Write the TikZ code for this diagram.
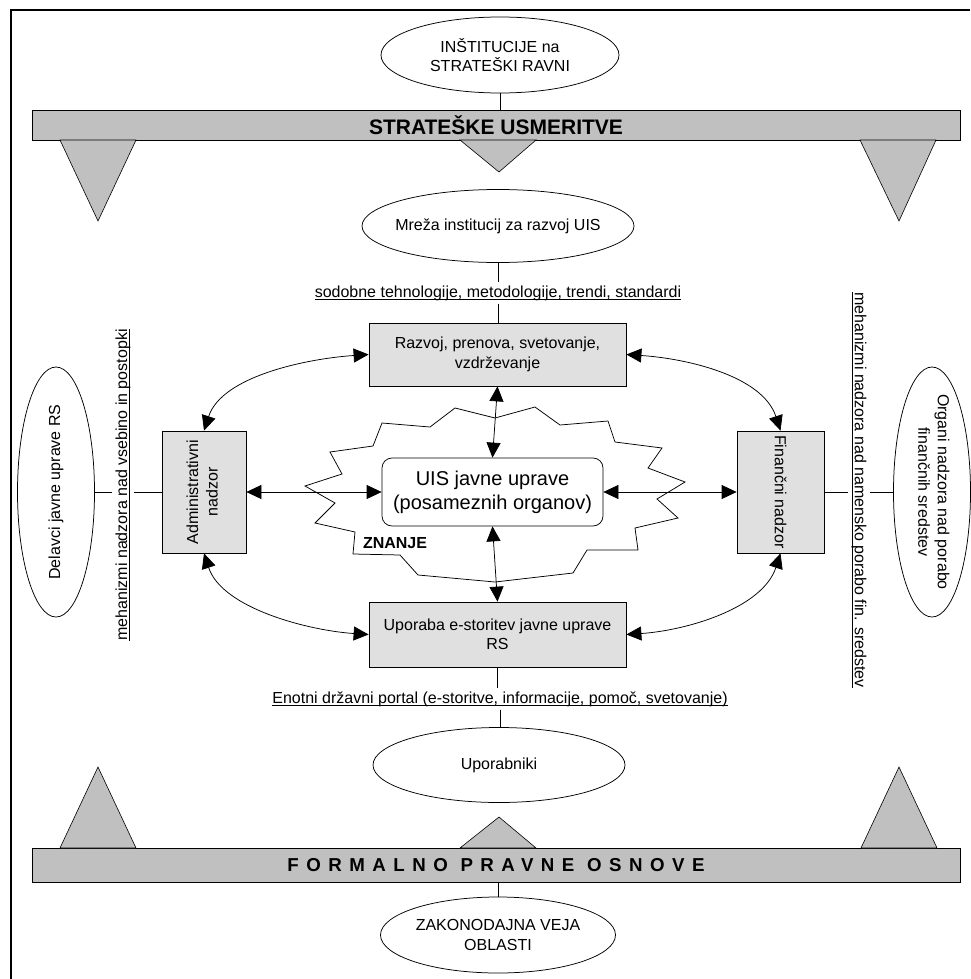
\documentclass[tikz,border=0pt]{standalone}
\usepackage{fontspec}
\setmainfont{Liberation Sans}
\newfontfamily\spacedfont[LetterSpace=40]{Liberation Sans}
\usetikzlibrary{arrows.meta,shapes.geometric}
\newcommand\fsz[2]{\fontsize{#1pt}{#2pt}\selectfont}
% underline drawn just below the baseline, crossing the descenders
\newcommand\uln[1]{\setbox0=\hbox{#1}\rlap{\rule[-2.6pt]{\wd0}{0.7pt}}\box0}
\definecolor{bargray}{RGB}{192,192,192}
\definecolor{boxgray}{RGB}{224,224,224}
\begin{document}
\begin{tikzpicture}[x=1pt,y=-1pt,
  every node/.style={font=\fsz{16}{19.5},text=black},
  link/.style={line width=0.75pt},
  both/.style={link,{Triangle[length=15pt,width=14pt]}-{Triangle[length=15pt,width=14pt]}},
  oval/.style={ellipse,draw,line width=0.75pt,fill=white,inner sep=-12pt,align=center},
  gbox/.style={rectangle,draw,line width=0.75pt,fill=boxgray,inner sep=0pt,align=center},
  bar/.style={rectangle,draw,line width=0.9pt,fill=bargray,inner sep=0pt,minimum width=928pt},
  wedge/.style={draw,line width=0.6pt,fill=bargray},
  tag/.style={inner sep=3pt}
]
\useasboundingbox (0,0) rectangle (970,979);
% frame
\draw[line width=2pt] (11,979) -- (11,10) -- (970,10);

% strategic bar and its wedges
\node[bar,minimum height=30pt,font=\fsz{21}{24}\bfseries] (bar1) at (496,125) {STRATEŠKE USMERITVE};
\draw[wedge] (60,140) -- (136,140) -- (98,221) -- cycle;
\draw[wedge] (460,140) -- (536,140) -- (499,172) -- cycle;
\draw[wedge] (860,140) -- (936,140) -- (899,221) -- cycle;

% legal bar and its wedges
\node[bar,minimum height=34pt,font=\spacedfont\bfseries\fsz{18.7}{22}] (bar2) at (496,865) {FORMALNO PRAVNE OSNOVE};
\draw[wedge] (60,848) -- (136,848) -- (98,767) -- cycle;
\draw[wedge] (460,848) -- (536,848) -- (499,817) -- cycle;
\draw[wedge] (861,848) -- (937,848) -- (899,767) -- cycle;

% ovals
\node[oval,minimum width=238pt,minimum height=76pt] (inst) at (500,55) {INŠTITUCIJE na\\STRATEŠKI RAVNI};
\node[oval,minimum width=272pt,minimum height=73pt] (mreza) at (498,226) {Mreža institucij za razvoj UIS};
\node[oval,minimum width=252pt,minimum height=75pt] (users) at (499,765) {Uporabniki};
\node[oval,minimum width=235pt,minimum height=76pt] (zak) at (498,935) {ZAKONODAJNA VEJA\\OBLASTI};
\node[oval,minimum width=77pt,minimum height=250pt] (del) at (56,492) {\rotatebox{90}{Delavci javne uprave RS}};
\node[oval,minimum width=77pt,minimum height=250pt] (org) at (932,492) {\rotatebox{-90}{\begin{tabular}{@{}c@{}}Organi nadzora nad porabo\\finančnih sredstev\end{tabular}}};

% knowledge cloud
\draw[link,fill=white] (495,418) -- (455,408) -- (430,427) -- (382,423) -- (373,446) -- (330,452)
  -- (342,474) -- (305,486) -- (335,503) -- (315,523) -- (355,532) -- (353,554) -- (400,555)
  -- (418,575) -- (495,582) -- (573,573) -- (587,550) -- (638,550) -- (635,528) -- (678,518)
  -- (657,499) -- (685,482) -- (648,468) -- (662,448) -- (615,442) -- (608,421) -- (560,425)
  -- (535,407) -- cycle;
\node[font=\fsz{16}{19}\bfseries] (znanje) at (395,543) {ZNANJE};
\node[draw,line width=0.75pt,fill=white,rounded corners=10pt,minimum width=221pt,minimum height=68pt,
  inner sep=0pt,align=center,font=\fsz{20}{24}] (uis) at (492.5,492) {UIS javne uprave\\(posameznih organov)};

% activity boxes
\node[gbox,minimum width=257pt,minimum height=63pt] (razvoj) at (497.5,354.5) {Razvoj, prenova, svetovanje,\\vzdrževanje};
\node[gbox,minimum width=257pt,minimum height=65pt] (upor) at (497.5,634.5) {Uporaba e-storitev javne uprave\\RS};
\node[gbox,minimum width=84pt,minimum height=122pt] (adm) at (204,492) {\rotatebox{90}{\begin{tabular}{@{}c@{}}Administrativni\\nadzor\end{tabular}}};
\node[gbox,minimum width=87pt,minimum height=122pt] (fin) at (780.5,492) {\rotatebox{-90}{Finančni nadzor}};

% channel labels
\node[tag] (sod) at (498,293) {\uln{sodobne tehnologije, metodologije, trendi, standardi}};
\node[tag] (enot) at (500,699) {\uln{Enotni državni portal (e-storitve, informacije, pomoč, svetovanje)}};
\node[tag] (lmech) at (123,485) {\rotatebox{90}{\uln{mehanizmi nadzora nad vsebino in postopki}}};
\node[tag] (rmech) at (859,490) {\rotatebox{-90}{\uln{mehanizmi nadzora nad namensko porabo fin. sredstev}}};

% plain connectors
\draw[link] (inst.south) -- (inst.south |- bar1.north);
\draw[link] (bar2.south -| zak.north) -- (zak.north);
\draw[link] (mreza.south) -- (mreza.south |- sod.north);
\draw[link] (sod.south) -- (sod.south |- razvoj.north);
\draw[link] (upor.south) -- (upor.south |- enot.north);
\draw[link] (enot.south) -- (enot.south |- users.north);
\draw[link] (del.east) -- (del.east -| lmech.west);
\draw[link] (lmech.east |- adm.west) -- (adm.west);
\draw[link] (fin.east) -- (fin.east -| rmech.west);
\draw[link] (rmech.east |- org.west) -- (org.west);

% two-way arrows
\draw[both] (adm.east) -- (uis.west);
\draw[both] (uis.east) -- (fin.west);
\draw[both] (razvoj.south) -- (uis.north);
\draw[both] (uis.south) -- (upor.north);
\draw[both] (razvoj.west) .. controls +(-60,4) and +(18,-55) .. (adm.north);
\draw[both] (adm.south) .. controls +(18,55) and +(-60,-4) .. (upor.west);
\draw[both] (razvoj.east) .. controls +(60,4) and +(-18,-55) .. (fin.north);
\draw[both] (fin.south) .. controls +(-18,55) and +(60,-4) .. (upor.east);
\end{tikzpicture}
\end{document}
